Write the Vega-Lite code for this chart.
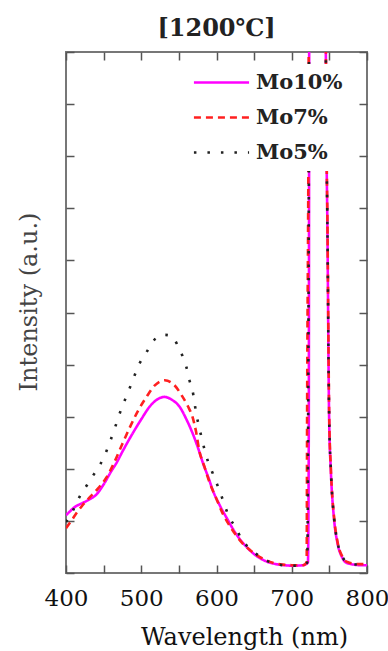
{
  "$schema": "https://vega.github.io/schema/vega-lite/v6.json",
  "autosize": {"type": "none"},
  "width": 301,
  "height": 521,
  "padding": {"left": 66, "top": 52, "right": 21, "bottom": 78},
  "background": "white",
  "title": {
    "text": "[1200℃]",
    "font": "DejaVu Serif",
    "fontSize": 24,
    "fontWeight": "bold",
    "color": "#222",
    "offset": 10
  },
  "config": {
    "view": {"stroke": "#777", "strokeWidth": 2},
    "axis": {"grid": false, "domain": false, "tickColor": "#555", "tickWidth": 1.5}
  },
  "data": {
    "values": [
      {"wl": 400, "v": 1.11, "s": "Mo10%"}, {"wl": 405, "v": 1.18, "s": "Mo10%"}, {"wl": 412, "v": 1.27, "s": "Mo10%"},
      {"wl": 420, "v": 1.33, "s": "Mo10%"}, {"wl": 432, "v": 1.42, "s": "Mo10%"}, {"wl": 440, "v": 1.5, "s": "Mo10%"},
      {"wl": 450, "v": 1.7, "s": "Mo10%"}, {"wl": 460, "v": 1.95, "s": "Mo10%"}, {"wl": 467, "v": 2.11, "s": "Mo10%"},
      {"wl": 475, "v": 2.33, "s": "Mo10%"}, {"wl": 489, "v": 2.69, "s": "Mo10%"}, {"wl": 500, "v": 2.95, "s": "Mo10%"},
      {"wl": 511, "v": 3.19, "s": "Mo10%"}, {"wl": 520, "v": 3.32, "s": "Mo10%"}, {"wl": 531, "v": 3.38, "s": "Mo10%"},
      {"wl": 540, "v": 3.33, "s": "Mo10%"}, {"wl": 551, "v": 3.19, "s": "Mo10%"}, {"wl": 560, "v": 2.95, "s": "Mo10%"},
      {"wl": 568, "v": 2.69, "s": "Mo10%"}, {"wl": 575, "v": 2.42, "s": "Mo10%"}, {"wl": 582, "v": 2.11, "s": "Mo10%"},
      {"wl": 590, "v": 1.8, "s": "Mo10%"}, {"wl": 595, "v": 1.59, "s": "Mo10%"}, {"wl": 605, "v": 1.28, "s": "Mo10%"},
      {"wl": 613, "v": 1.07, "s": "Mo10%"}, {"wl": 626, "v": 0.75, "s": "Mo10%"}, {"wl": 640, "v": 0.5, "s": "Mo10%"},
      {"wl": 651, "v": 0.35, "s": "Mo10%"}, {"wl": 665, "v": 0.23, "s": "Mo10%"}, {"wl": 679, "v": 0.17, "s": "Mo10%"},
      {"wl": 690, "v": 0.15, "s": "Mo10%"}, {"wl": 701, "v": 0.14, "s": "Mo10%"}, {"wl": 715, "v": 0.15, "s": "Mo10%"},
      {"wl": 721.5, "v": 0.2, "s": "Mo10%"}, {"wl": 722.6, "v": 2.5, "s": "Mo10%"}, {"wl": 723.2, "v": 10.5, "s": "Mo10%"},
      {"wl": 723.6, "v": 16, "s": "Mo10%"}, {"wl": 744.8, "v": 16, "s": "Mo10%"}, {"wl": 745.3, "v": 10, "s": "Mo10%"},
      {"wl": 747.5, "v": 6.47, "s": "Mo10%"}, {"wl": 749.7, "v": 2.94, "s": "Mo10%"}, {"wl": 751.9, "v": 1.98, "s": "Mo10%"},
      {"wl": 756.3, "v": 1.02, "s": "Mo10%"}, {"wl": 760.7, "v": 0.58, "s": "Mo10%"}, {"wl": 767.3, "v": 0.29, "s": "Mo10%"},
      {"wl": 773.5, "v": 0.19, "s": "Mo10%"}, {"wl": 791.7, "v": 0.15, "s": "Mo10%"}, {"wl": 800, "v": 0.15, "s": "Mo10%"},

      {"wl": 400, "v": 0.86, "s": "Mo7%"}, {"wl": 407, "v": 1.0, "s": "Mo7%"}, {"wl": 414, "v": 1.15, "s": "Mo7%"},
      {"wl": 422, "v": 1.3, "s": "Mo7%"}, {"wl": 432, "v": 1.46, "s": "Mo7%"}, {"wl": 443, "v": 1.63, "s": "Mo7%"},
      {"wl": 454, "v": 1.84, "s": "Mo7%"}, {"wl": 465, "v": 2.15, "s": "Mo7%"}, {"wl": 475, "v": 2.48, "s": "Mo7%"},
      {"wl": 485, "v": 2.8, "s": "Mo7%"}, {"wl": 496, "v": 3.12, "s": "Mo7%"}, {"wl": 507, "v": 3.38, "s": "Mo7%"},
      {"wl": 518, "v": 3.6, "s": "Mo7%"}, {"wl": 531, "v": 3.7, "s": "Mo7%"}, {"wl": 543, "v": 3.62, "s": "Mo7%"},
      {"wl": 555, "v": 3.38, "s": "Mo7%"}, {"wl": 562, "v": 3.2, "s": "Mo7%"}, {"wl": 568, "v": 3.0, "s": "Mo7%"},
      {"wl": 573, "v": 2.7, "s": "Mo7%"}, {"wl": 577, "v": 2.36, "s": "Mo7%"}, {"wl": 584, "v": 2.04, "s": "Mo7%"},
      {"wl": 591, "v": 1.73, "s": "Mo7%"}, {"wl": 600, "v": 1.42, "s": "Mo7%"}, {"wl": 608, "v": 1.15, "s": "Mo7%"},
      {"wl": 620, "v": 0.85, "s": "Mo7%"}, {"wl": 634, "v": 0.58, "s": "Mo7%"}, {"wl": 650, "v": 0.38, "s": "Mo7%"},
      {"wl": 665, "v": 0.25, "s": "Mo7%"}, {"wl": 680, "v": 0.18, "s": "Mo7%"}, {"wl": 700, "v": 0.15, "s": "Mo7%"},
      {"wl": 715, "v": 0.15, "s": "Mo7%"}, {"wl": 719.8, "v": 0.2, "s": "Mo7%"}, {"wl": 720.4, "v": 3, "s": "Mo7%"},
      {"wl": 722.6, "v": 10.5, "s": "Mo7%"}, {"wl": 723.2, "v": 16, "s": "Mo7%"}, {"wl": 744.8, "v": 16, "s": "Mo7%"},
      {"wl": 745.4, "v": 10, "s": "Mo7%"}, {"wl": 747.6, "v": 6.5, "s": "Mo7%"}, {"wl": 749.8, "v": 3.0, "s": "Mo7%"},
      {"wl": 752, "v": 2.0, "s": "Mo7%"}, {"wl": 756.4, "v": 1.05, "s": "Mo7%"}, {"wl": 760.8, "v": 0.6, "s": "Mo7%"},
      {"wl": 767.4, "v": 0.31, "s": "Mo7%"}, {"wl": 774, "v": 0.21, "s": "Mo7%"}, {"wl": 790, "v": 0.17, "s": "Mo7%"},
      {"wl": 800, "v": 0.17, "s": "Mo7%"},

      {"wl": 400, "v": 0.98, "s": "Mo5%"}, {"wl": 410, "v": 1.22, "s": "Mo5%"}, {"wl": 418, "v": 1.46, "s": "Mo5%"},
      {"wl": 428, "v": 1.69, "s": "Mo5%"}, {"wl": 436, "v": 1.87, "s": "Mo5%"}, {"wl": 445, "v": 2.07, "s": "Mo5%"},
      {"wl": 452, "v": 2.28, "s": "Mo5%"}, {"wl": 458, "v": 2.5, "s": "Mo5%"}, {"wl": 466, "v": 2.83, "s": "Mo5%"},
      {"wl": 474, "v": 3.17, "s": "Mo5%"}, {"wl": 482, "v": 3.45, "s": "Mo5%"}, {"wl": 490, "v": 3.75, "s": "Mo5%"},
      {"wl": 498, "v": 4.03, "s": "Mo5%"}, {"wl": 507, "v": 4.24, "s": "Mo5%"}, {"wl": 515, "v": 4.43, "s": "Mo5%"},
      {"wl": 523, "v": 4.55, "s": "Mo5%"}, {"wl": 531, "v": 4.57, "s": "Mo5%"}, {"wl": 540, "v": 4.55, "s": "Mo5%"},
      {"wl": 548, "v": 4.38, "s": "Mo5%"}, {"wl": 556, "v": 4.12, "s": "Mo5%"}, {"wl": 560, "v": 3.95, "s": "Mo5%"},
      {"wl": 564, "v": 3.7, "s": "Mo5%"}, {"wl": 568, "v": 3.51, "s": "Mo5%"}, {"wl": 573, "v": 3.07, "s": "Mo5%"},
      {"wl": 580, "v": 2.61, "s": "Mo5%"}, {"wl": 588, "v": 2.17, "s": "Mo5%"}, {"wl": 594, "v": 1.95, "s": "Mo5%"},
      {"wl": 600, "v": 1.73, "s": "Mo5%"}, {"wl": 606, "v": 1.5, "s": "Mo5%"}, {"wl": 617, "v": 1.07, "s": "Mo5%"},
      {"wl": 626, "v": 0.86, "s": "Mo5%"}, {"wl": 634, "v": 0.63, "s": "Mo5%"}, {"wl": 642, "v": 0.5, "s": "Mo5%"},
      {"wl": 650, "v": 0.4, "s": "Mo5%"}, {"wl": 662, "v": 0.27, "s": "Mo5%"}, {"wl": 675, "v": 0.19, "s": "Mo5%"},
      {"wl": 688, "v": 0.15, "s": "Mo5%"}, {"wl": 700, "v": 0.14, "s": "Mo5%"}, {"wl": 715, "v": 0.15, "s": "Mo5%"},
      {"wl": 720.5, "v": 0.2, "s": "Mo5%"}, {"wl": 721.8, "v": 3, "s": "Mo5%"}, {"wl": 723, "v": 10.5, "s": "Mo5%"},
      {"wl": 723.4, "v": 16, "s": "Mo5%"}, {"wl": 744.8, "v": 16, "s": "Mo5%"}, {"wl": 745.3, "v": 10, "s": "Mo5%"},
      {"wl": 747.5, "v": 6.5, "s": "Mo5%"}, {"wl": 749.7, "v": 3.0, "s": "Mo5%"}, {"wl": 751.9, "v": 2.0, "s": "Mo5%"},
      {"wl": 756.3, "v": 1.04, "s": "Mo5%"}, {"wl": 760.7, "v": 0.6, "s": "Mo5%"}, {"wl": 767.3, "v": 0.31, "s": "Mo5%"},
      {"wl": 775, "v": 0.2, "s": "Mo5%"}, {"wl": 790, "v": 0.16, "s": "Mo5%"}, {"wl": 800, "v": 0.16, "s": "Mo5%"}
    ]
  },
  "layer": [
    {
      "mark": {"type": "line", "clip": true, "strokeWidth": 2.6, "interpolate": "monotone"},
      "encoding": {
        "x": {
          "field": "wl", "type": "quantitative",
          "scale": {"domain": [400, 800], "nice": false, "zero": false},
          "axis": {
            "title": "Wavelength (nm)",
            "values": [400, 450, 500, 550, 600, 650, 700, 750, 800],
            "labelExpr": "datum.value % 100 == 0 ? datum.label : ''",
            "tickSize": -8,
            "labelFont": "DejaVu Serif", "labelFontSize": 23, "labelColor": "#111",
            "labelPadding": 22, "labelFlush": false,
            "titleFont": "DejaVu Serif", "titleFontSize": 24, "titleFontWeight": "normal", "titleColor": "#111",
            "titleX": 178, "titleY": 71, "titleBaseline": "alphabetic", "titleAlign": "center"
          }
        },
        "y": {
          "field": "v", "type": "quantitative",
          "scale": {"domain": [0, 10], "nice": false},
          "axis": {
            "title": "Intensity (a.u.)",
            "values": [0, 1, 2, 3, 4, 5, 6, 7, 8, 9, 10],
            "labels": false,
            "tickSize": -8,
            "titleFont": "DejaVu Serif", "titleFontSize": 24, "titleFontWeight": "normal", "titleColor": "#444",
            "titleAngle": -90, "titleX": -37, "titleY": 249.5, "titleBaseline": "middle", "titleAlign": "center"
          }
        },
        "color": {
          "field": "s", "type": "nominal",
          "scale": {"domain": ["Mo10%", "Mo7%", "Mo5%"], "range": ["#ff00ff", "#ff2020", "#222222"]},
          "legend": {
            "title": null,
            "orient": "none",
            "legendX": 137,
            "legendY": 12,
            "padding": 8,
            "fillColor": "white",
            "symbolType": "M-4,0H4",
            "symbolSize": 190,
            "symbolStrokeWidth": 2.6,
            "labelFont": "DejaVu Serif",
            "labelFontSize": 21,
            "labelFontWeight": "bold",
            "labelColor": "#222",
            "labelOffset": 24,
            "rowPadding": 13
          }
        },
        "strokeDash": {
          "field": "s", "type": "nominal",
          "scale": {"domain": ["Mo10%", "Mo7%", "Mo5%"], "range": [[1, 0], [7, 5], [2.5, 11]]},
          "legend": {
            "title": null,
            "orient": "none",
            "legendX": 137,
            "legendY": 12,
            "padding": 8,
            "fillColor": "white",
            "symbolType": "M-4,0H4",
            "symbolSize": 190,
            "symbolStrokeWidth": 2.6,
            "labelFont": "DejaVu Serif",
            "labelFontSize": 21,
            "labelFontWeight": "bold",
            "labelColor": "#222",
            "labelOffset": 24,
            "rowPadding": 13
          }
        }
      }
    },
    {
      "mark": {"type": "rule", "opacity": 0},
      "encoding": {
        "x": {
          "datum": 400, "type": "quantitative",
          "axis": {
            "orient": "top", "title": null, "labels": false,
            "values": [400, 450, 500, 550, 600, 650, 700, 750, 800],
            "tickSize": -8
          }
        },
        "y": {
          "datum": 0, "type": "quantitative",
          "axis": {
            "orient": "right", "title": null, "labels": false,
            "values": [0, 1, 2, 3, 4, 5, 6, 7, 8, 9, 10],
            "tickSize": -8
          }
        }
      }
    }
  ],
  "resolve": {"axis": {"x": "independent", "y": "independent"}}
}
